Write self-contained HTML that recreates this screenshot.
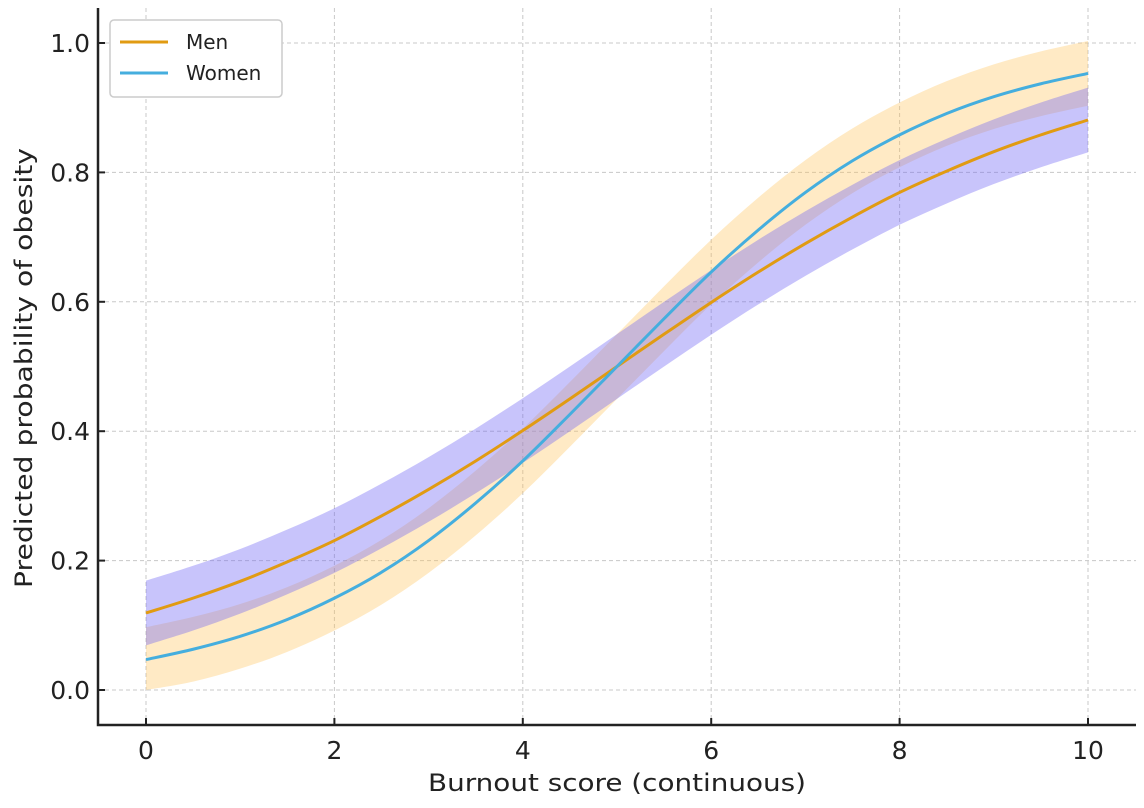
<!DOCTYPE html>
<html><head><meta charset="utf-8"><style>
html,body{margin:0;padding:0;background:#fff;}
svg{display:block;font-family:"DejaVu Sans","Liberation Sans",sans-serif;}
</style></head><body>
<svg id="chart" width="1144" height="808"></svg>
<script>
const xValues=[0,0.5,1,1.5,2,2.5,3,3.5,4,4.5,5,5.5,6,6.5,7,7.5,8,8.5,9,9.5,10];
const menProb=[0.119,0.142,0.168,0.198,0.231,0.269,0.310,0.354,0.401,0.450,0.500,0.550,0.599,0.646,0.690,0.731,0.769,0.802,0.832,0.858,0.881];
const womenProb=[0.047,0.063,0.083,0.109,0.142,0.182,0.231,0.289,0.354,0.426,0.500,0.574,0.646,0.711,0.769,0.818,0.858,0.891,0.917,0.937,0.953];
const menCI=[0.05,0.05,0.05,0.05,0.05,0.05,0.05,0.05,0.05,0.05,0.05,0.05,0.05,0.05,0.05,0.05,0.05,0.05,0.05,0.05,0.05];
const womenCI=[0.05,0.05,0.05,0.05,0.05,0.05,0.05,0.05,0.05,0.05,0.05,0.05,0.05,0.05,0.05,0.05,0.05,0.05,0.05,0.05,0.05];
const xTicks=[0,2,4,6,8,10];
const yTicks=[0,0.2,0.4,0.6,0.8,1.0];
const yTickLabels=["0.0","0.2","0.4","0.6","0.8","1.0"];

const NS="http://www.w3.org/2000/svg";
const svg=document.getElementById('chart');
const X=v=>146+v*94.2;
const Y=v=>690-v*647;
function el(tag,attrs,parent){const e=document.createElementNS(NS,tag);for(const k in attrs)e.setAttribute(k,attrs[k]);(parent||svg).appendChild(e);return e;}

xTicks.forEach(t=>{const g=el('line',{x1:X(t),x2:X(t),y1:8,y2:725,stroke:'#c8c8c8','stroke-dasharray':'4,3','stroke-width':1});

});
yTicks.forEach(t=>{const g=el('line',{x1:98,x2:1136,y1:Y(t),y2:Y(t),stroke:'#c8c8c8','stroke-dasharray':'4,3','stroke-width':1});

});

function smooth(p){
  let d='';
  for(let i=0;i<p.length-1;i++){
    const p0=p[Math.max(0,i-1)],p1=p[i],p2=p[i+1],p3=p[Math.min(p.length-1,i+2)];
    d+='C'+(p1[0]+(p2[0]-p0[0])/6)+','+(p1[1]+(p2[1]-p0[1])/6)+' '+(p2[0]-(p3[0]-p1[0])/6)+','+(p2[1]-(p3[1]-p1[1])/6)+' '+p2[0]+','+p2[1];
  }
  return d;
}
function bandPath(vals,ci){
  const up=vals.map((v,i)=>[X(xValues[i]),Y(Math.min(1.003,v+ci[i]))]);
  const lo=vals.map((v,i)=>[X(xValues[i]),Y(Math.max(0,v-ci[i]))]).reverse();
  return 'M'+up[0]+smooth(up)+'L'+lo[0]+smooth(lo)+'Z';
}
function linePath(vals){
  const p=vals.map((v,i)=>[X(xValues[i]),Y(v)]);
  return 'M'+p[0]+smooth(p);
}
const wb=el('path',{d:bandPath(womenProb,womenCI),fill:'rgba(255,196,90,0.35)'});


const mb=el('path',{d:bandPath(menProb,menCI),fill:'rgba(110,100,245,0.38)'});


const ml=el('path',{d:linePath(menProb),fill:'none',stroke:'#e19b12','stroke-width':3});


const wl=el('path',{d:linePath(womenProb),fill:'none',stroke:'#45aede','stroke-width':3});



const ax=el('path',{d:'M98,8 L98,725 L1136,725',fill:'none',stroke:'#222','stroke-width':2.5});


xTicks.forEach(t=>{
  el('line',{x1:X(t),x2:X(t),y1:725,y2:718,stroke:'#222','stroke-width':2});
  const tx=el('text',{x:X(t),y:759,'text-anchor':'middle','font-size':25,fill:'#222'});tx.textContent=t;
  
  
});
yTicks.forEach((t,i)=>{
  el('line',{x1:98,x2:105,y1:Y(t),y2:Y(t),stroke:'#222','stroke-width':2});
  const tx=el('text',{x:90,y:Y(t)+9,'text-anchor':'end','font-size':25,fill:'#222'});tx.textContent=yTickLabels[i];
  
  
});
const xt=el('text',{x:617,y:791,'text-anchor':'middle','font-size':24,fill:'#222',textLength:378,lengthAdjust:'spacingAndGlyphs'});xt.textContent='Burnout score (continuous)';


const yt=el('text',{x:0,y:0,'text-anchor':'middle','font-size':24,fill:'#222',textLength:440,lengthAdjust:'spacingAndGlyphs',transform:'translate(32,368) rotate(-90)'});yt.textContent='Predicted probability of obesity';



const lg=el('g',{});


el('rect',{x:110,y:20,width:172,height:77,rx:4,fill:'#fff',stroke:'#ccc','stroke-width':1.5},lg);
[['Men','#e19b12',44],['Women','#45aede',75]].forEach(([n,c,y])=>{
  const g=el('g',{},lg);
  
  
  el('line',{x1:120,x2:168,y1:y-2,y2:y-2,stroke:c,'stroke-width':3},g);
  const t=el('text',{x:186,y:y+5,'font-size':20,fill:'#222'},g);t.textContent=n;
});
</script>
</body></html>
